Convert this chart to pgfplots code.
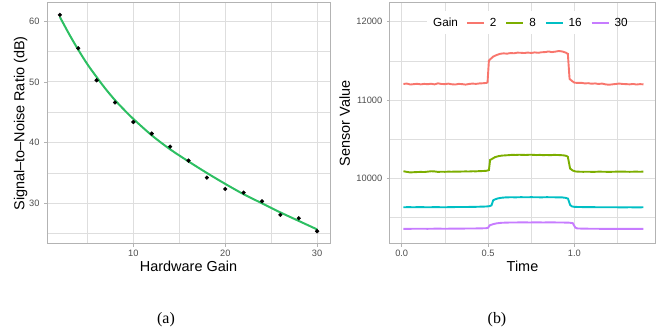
\documentclass[border=0pt]{standalone}
\usepackage{pgfplots}
\pgfplotsset{compat=1.18}
\usepackage{fontspec}
\setmainfont{Liberation Sans}
\newfontfamily\capfont{Liberation Serif}
\definecolor{gray70}{HTML}{B3B3B3}
\definecolor{gray30}{HTML}{4D4D4D}
\definecolor{grid87}{HTML}{DEDEDE}
\definecolor{fitgreen}{HTML}{2DBF62}
\definecolor{c2}{HTML}{F8766D}
\definecolor{c8}{HTML}{7CAE00}
\definecolor{c16}{HTML}{00BFC4}
\definecolor{c30}{HTML}{C77CFF}
\newcommand{\labfont}{\fontsize{14.5}{16}\selectfont}
\pgfplotsset{
  ggstyle/.style={
    scale only axis,
    scaled ticks=false,
    axis line style={draw=gray70, line width=1bp},
    tick align=outside, tick pos=left,
    major tick length=2.75bp, minor tick length=0pt,
    tick style={draw=gray70, line width=0.8bp},
    grid=both,
    major grid style={draw=grid87, line width=0.9bp},
    minor grid style={draw=grid87, line width=0.5bp},
    /pgf/number format/assume math mode=true,
    tick label style={font=\fontsize{9.3}{10}\selectfont, text=gray30},
    xticklabel style={inner sep=0pt, anchor=north, yshift=-3.5bp},
    yticklabel style={inner sep=0pt, anchor=east, xshift=-4.5bp},
  }
}
\begin{document}
\begin{tikzpicture}
\useasboundingbox (0,0) rectangle (662bp,333bp);
% ---------------- (a) ----------------
\begin{axis}[ggstyle,
  at={(47bp,89bp)}, anchor=south west,
  width=283bp, height=241bp,
  xmin=0.6, xmax=31.4, ymin=23.3, ymax=63.0,
  xtick={10,20,30}, xticklabels={10,20,30},
  minor xtick={5,15,25},
  ytick={30,40,50,60}, yticklabels={30,40,50,60},
  minor ytick={25,35,45,55},
  xlabel={Hardware Gain},
  ylabel={Signal--to--Noise Ratio (dB)},
  every axis x label/.style={at={(axis description cs:0.5,-0.1149)}, anchor=base, font=\labfont},
  every axis y label/.style={at={(axis description cs:-0.0802,0.5)}, rotate=90, anchor=base, font=\labfont},
]
\addplot[fitgreen, line width=2bp, smooth] coordinates {
 (2,60.7) (3,57.9) (4,55.3) (5,52.9) (6,50.8) (7,48.8) (8,47.0) (9,45.4)
 (10,43.9) (12,41.2) (14,38.9) (16,36.9) (18,35.0) (20,33.2) (22,31.5)
 (24,30.0) (26,28.5) (28,27.1) (30,25.7)
};
\addplot[only marks, mark=*, mark size=1.9bp, black] coordinates {
 (2,61.04) (4,55.55) (6,50.27) (8,46.6) (10,43.4) (12,41.48) (14,39.34)
 (16,37.03) (18,34.23) (20,32.37) (22,31.76) (24,30.33) (26,28.1)
 (28,27.55) (30,25.4)
};
\end{axis}
% ---------------- (b) ----------------
\begin{axis}[ggstyle,
  at={(389.7bp,89bp)}, anchor=south west,
  width=265.6bp, height=241.3bp,
  xmin=-0.0695, xmax=1.4685, ymin=9161, ymax=12243,
  xtick={0,0.5,1}, xticklabels={0.0,0.5,1.0},
  minor xtick={0.25,0.75,1.25},
  ytick={10000,11000,12000}, yticklabels={10000,11000,12000},
  minor ytick={9500,10500,11500},
  xlabel={Time},
  ylabel={Sensor Value},
  every axis x label/.style={at={(axis description cs:0.5,-0.1148)}, anchor=base, font=\labfont},
  every axis y label/.style={at={(axis description cs:-0.1495,0.5)}, rotate=90, anchor=base, font=\labfont},
  legend columns=-1,
  legend style={draw=none, fill=none, inner sep=0pt, outer sep=0pt,
    at={(axis description cs:0.287,0.917)}, anchor=west,
    font=\fontsize{11.8}{13}\selectfont,
    column sep=5bp,
    nodes={inner sep=0pt, anchor=west},
    /tikz/every even column/.append style={column sep=9bp}},
  legend image code/.code={\draw[#1] (0bp,0bp) -- (17bp,0bp);},
]
\fill[white] (axis description cs:0.1404,0.870) rectangle (axis description cs:0.848,0.9656);
\addplot[c2, line width=1.9bp] coordinates {
 (0.01,11205) (0.03,11210) (0.05,11198) (0.07,11203) (0.09,11207) (0.11,11200)
 (0.13,11206) (0.15,11202) (0.17,11208) (0.19,11200) (0.21,11213) (0.23,11205)
 (0.25,11203) (0.27,11209) (0.29,11201) (0.31,11198) (0.33,11206) (0.35,11203)
 (0.37,11197) (0.39,11205) (0.41,11210) (0.43,11206) (0.45,11212) (0.47,11214)
 (0.49,11218) (0.497,11225) (0.505,11505) (0.515,11525) (0.53,11555) (0.55,11575)
 (0.57,11590) (0.59,11596) (0.61,11592) (0.63,11600) (0.65,11597) (0.67,11605)
 (0.69,11603) (0.71,11600) (0.73,11606) (0.75,11601) (0.77,11608) (0.79,11603)
 (0.81,11610) (0.83,11612) (0.85,11620) (0.87,11612) (0.89,11618) (0.91,11626)
 (0.93,11620) (0.95,11605) (0.962,11590) (0.972,11270) (0.985,11245) (1.0,11222)
 (1.02,11218) (1.04,11220) (1.06,11212) (1.08,11215) (1.10,11208) (1.12,11212)
 (1.14,11205) (1.16,11210) (1.18,11200) (1.20,11195) (1.22,11200) (1.24,11205)
 (1.26,11210) (1.28,11205) (1.30,11203) (1.32,11200) (1.34,11205) (1.36,11198)
 (1.38,11203) (1.40,11200)
};
\addlegendentry{2}
\addplot[c8, line width=1.9bp] coordinates {
 (0.01,10090) (0.03,10082) (0.05,10075) (0.07,10078) (0.09,10080) (0.11,10082)
 (0.13,10080) (0.15,10085) (0.17,10090) (0.19,10088) (0.21,10082) (0.23,10084)
 (0.25,10083) (0.27,10085) (0.29,10084) (0.31,10086) (0.33,10085) (0.35,10087)
 (0.37,10088) (0.39,10087) (0.41,10090) (0.43,10089) (0.45,10092) (0.47,10093)
 (0.49,10096) (0.505,10105) (0.512,10235) (0.525,10250) (0.54,10270) (0.56,10283)
 (0.58,10290) (0.60,10293) (0.62,10296) (0.64,10300) (0.66,10298) (0.68,10301)
 (0.70,10299) (0.72,10298) (0.74,10301) (0.76,10300) (0.78,10297) (0.80,10299)
 (0.82,10296) (0.84,10298) (0.86,10295) (0.88,10299) (0.90,10298) (0.92,10296)
 (0.94,10293) (0.955,10285) (0.962,10275) (0.975,10125) (0.99,10100) (1.005,10088)
 (1.02,10085) (1.05,10083) (1.08,10084) (1.11,10082) (1.14,10085) (1.17,10084)
 (1.20,10082) (1.23,10084) (1.26,10086) (1.29,10085) (1.32,10083) (1.35,10085)
 (1.38,10084) (1.40,10085)
};
\addlegendentry{8}
\addplot[c16, line width=1.9bp] coordinates {
 (0.01,9630) (0.04,9632) (0.07,9630) (0.10,9633) (0.13,9631) (0.16,9630)
 (0.19,9632) (0.22,9631) (0.25,9630) (0.28,9632) (0.31,9633) (0.34,9634)
 (0.37,9633) (0.40,9635) (0.43,9636) (0.46,9638) (0.49,9640) (0.51,9645)
 (0.52,9655) (0.53,9720) (0.545,9735) (0.56,9745) (0.58,9752) (0.60,9756)
 (0.63,9758) (0.66,9757) (0.69,9759) (0.72,9758) (0.75,9759) (0.78,9758)
 (0.81,9757) (0.84,9759) (0.87,9758) (0.90,9757) (0.93,9756) (0.95,9750)
 (0.963,9740) (0.975,9660) (0.985,9642) (1.0,9635) (1.04,9633) (1.08,9632)
 (1.12,9631) (1.16,9630) (1.20,9631) (1.24,9630) (1.28,9629) (1.32,9630)
 (1.36,9629) (1.40,9630)
};
\addlegendentry{16}
\addplot[c30, line width=1.9bp] coordinates {
 (0.01,9355) (0.05,9355) (0.10,9356) (0.15,9355) (0.20,9357) (0.25,9356)
 (0.30,9357) (0.35,9358) (0.40,9359) (0.45,9360) (0.49,9363) (0.50,9368)
 (0.51,9400) (0.53,9415) (0.55,9425) (0.58,9432) (0.62,9435) (0.66,9436)
 (0.70,9437) (0.74,9436) (0.78,9437) (0.82,9436) (0.86,9437) (0.90,9436)
 (0.94,9435) (0.97,9433) (0.99,9428) (1.005,9372) (1.015,9360) (1.05,9357)
 (1.10,9356) (1.15,9355) (1.20,9355) (1.25,9354) (1.30,9355) (1.35,9354)
 (1.40,9355)
};
\addlegendentry{30}
\node[anchor=west, inner sep=0pt, font=\fontsize{11.8}{13}\selectfont] at (axis description cs:0.163,0.917) {Gain};
\end{axis}
\node[anchor=base, font=\capfont\fontsize{16}{18}\selectfont] at (166bp,10bp) {(a)};
\node[anchor=base, font=\capfont\fontsize{16}{18}\selectfont] at (497bp,10bp) {(b)};
\end{tikzpicture}
\end{document}
